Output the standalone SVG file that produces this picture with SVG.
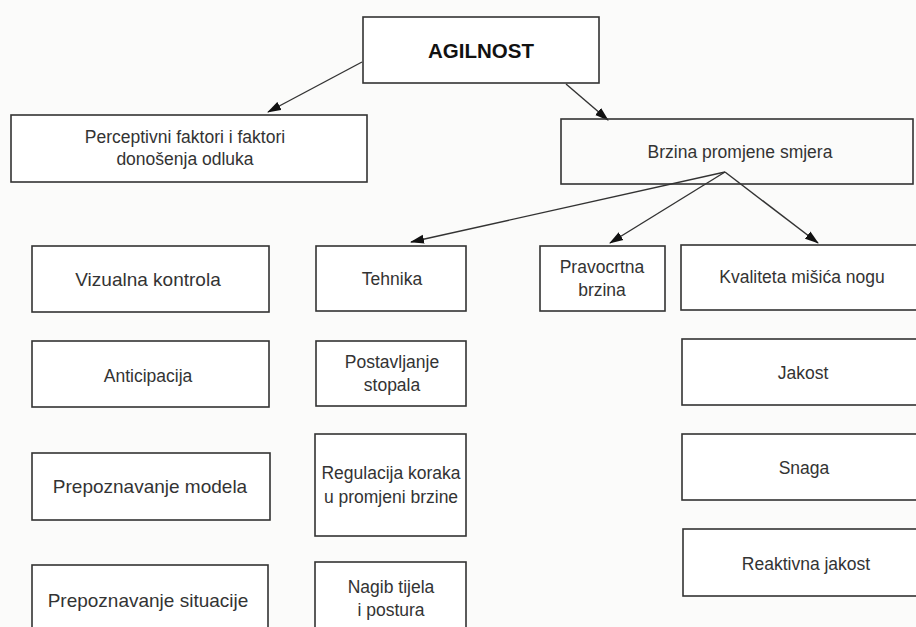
<svg xmlns="http://www.w3.org/2000/svg" width="916" height="627" viewBox="0 0 916 627">
<style>
.box{fill:#fff;stroke:#333;stroke-width:1.6}
.t{font-family:"Liberation Sans",Arial,sans-serif;font-size:17.5px;fill:#333;text-anchor:middle}
.l{font-size:19px}
.b{font-weight:bold;font-size:20.5px;fill:#111}
.c{stroke:#333;stroke-width:1.4;fill:none;marker-end:url(#ah)}
</style>
<defs>
<marker id="ah" markerUnits="userSpaceOnUse" markerWidth="14" markerHeight="10" refX="13" refY="5" orient="auto">
<path d="M0,0.5 L14,5 L0,9.5 Z" fill="#111"/>
</marker>
</defs>
<rect width="916" height="627" fill="#fbfbfa"/>
<g id="connectors">
<line class="c" x1="362" y1="62" x2="268" y2="112"/>
<line class="c" x1="566" y1="84" x2="608" y2="120"/>
<line class="c" x1="725" y1="172" x2="411" y2="242"/>
<line class="c" x1="725" y1="172" x2="610" y2="243"/>
<line class="c" x1="725" y1="172" x2="818" y2="243"/>
</g>
<g id="agilnost"><rect class="box" x="363" y="17" width="236" height="66"/><text class="t b" x="481" y="58">AGILNOST</text></g>
<g id="perceptivni"><rect class="box" x="11" y="115" width="356" height="67"/><text class="t" x="185" y="143">Perceptivni faktori i faktori</text><text class="t" x="185" y="165">donošenja odluka</text></g>
<g id="brzina"><rect class="box" x="561" y="119" width="352" height="65" fill-opacity="0"/><text class="t" x="740" y="158">Brzina promjene smjera</text></g>
<g id="vizualna"><rect class="box" x="32" y="246" width="237" height="66"/><text class="t l" x="148" y="286">Vizualna kontrola</text></g>
<g id="anticipacija"><rect class="box" x="32" y="341" width="237" height="66"/><text class="t" x="148" y="382">Anticipacija</text></g>
<g id="modela"><rect class="box" x="32" y="453" width="238" height="67"/><text class="t l" x="150" y="493">Prepoznavanje modela</text></g>
<g id="situacije"><rect class="box" x="32" y="565" width="236" height="80"/><text class="t l" x="148" y="607">Prepoznavanje situacije</text></g>
<g id="tehnika"><rect class="box" x="316" y="246" width="150" height="65"/><text class="t" x="392" y="285">Tehnika</text></g>
<g id="stopala"><rect class="box" x="316" y="341" width="150" height="65"/><text class="t" x="392" y="368">Postavljanje</text><text class="t" x="392" y="391">stopala</text></g>
<g id="regulacija"><rect class="box" x="315" y="434" width="151" height="102"/><text class="t" x="391" y="479">Regulacija koraka</text><text class="t" x="391" y="503">u promjeni brzine</text></g>
<g id="nagib"><rect class="box" x="315" y="562" width="151" height="80"/><text class="t" x="391" y="593">Nagib tijela</text><text class="t" x="391" y="616">i postura</text></g>
<g id="pravocrtna"><rect class="box" x="540" y="246" width="125" height="65"/><text class="t" x="602" y="273">Pravocrtna</text><text class="t" x="602" y="296">brzina</text></g>
<g id="kvaliteta"><rect class="box" x="681" y="245" width="250" height="65"/><text class="t" x="802" y="283">Kvaliteta mišića nogu</text></g>
<g id="jakost"><rect class="box" x="682" y="339" width="250" height="66"/><text class="t" x="803" y="379">Jakost</text></g>
<g id="snaga"><rect class="box" x="682" y="434" width="250" height="66"/><text class="t" x="804" y="474">Snaga</text></g>
<g id="reaktivna"><rect class="box" x="683" y="529" width="250" height="67"/><text class="t" x="806" y="570">Reaktivna jakost</text></g>
</svg>
